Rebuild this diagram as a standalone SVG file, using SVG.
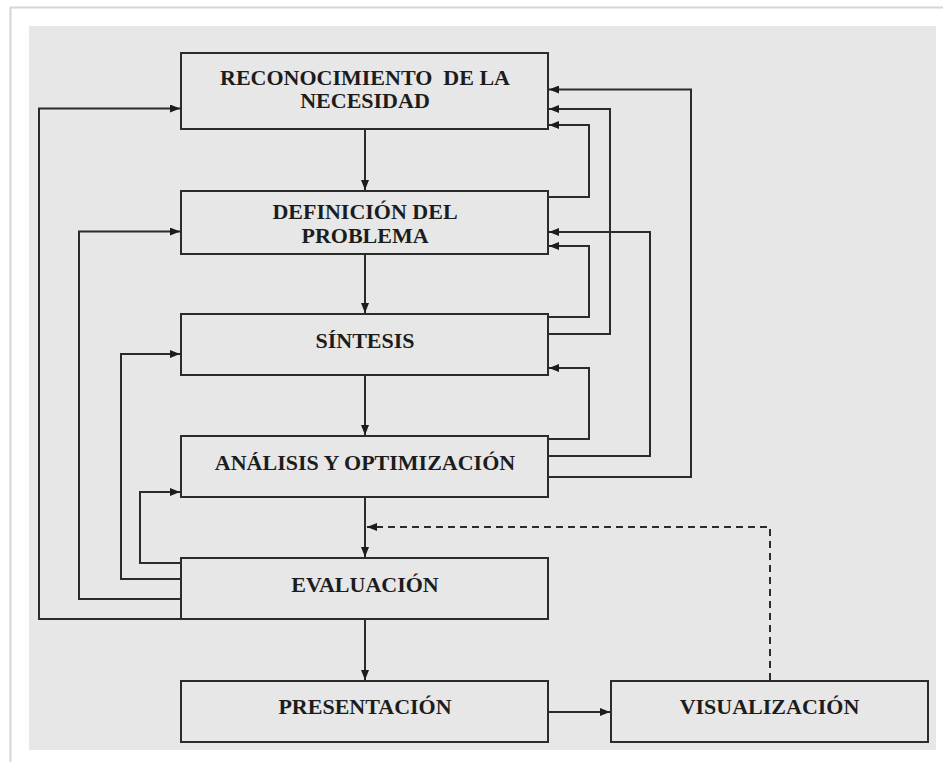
<svg xmlns="http://www.w3.org/2000/svg" width="943" height="762" viewBox="0 0 943 762">
<defs>
<style>
.box{fill:#e7e7e7;stroke:#2b2b2b;stroke-width:2}
.lbl{font-family:"Liberation Serif","Times New Roman",serif;font-weight:bold;font-size:22px;fill:#1c1c1c;text-anchor:middle}
.ln{fill:none;stroke:#2b2b2b;stroke-width:2}
.arr{marker-end:url(#ah)}
.dash{stroke-dasharray:7 5}
</style>
<marker id="ah" viewBox="0 0 10 8" refX="10" refY="4" markerWidth="10" markerHeight="8" markerUnits="userSpaceOnUse" orient="auto">
<path d="M0,0 L10,4 L0,8 z" fill="#1c1c1c"/>
</marker>
</defs>
<rect x="0" y="0" width="943" height="762" fill="#ffffff"/>
<path d="M10.5,762 V7.5 H943" fill="none" stroke="#d6d6d6" stroke-width="2"/>
<rect x="29" y="26" width="907" height="724" fill="#e7e7e7"/>

<g id="connectors">
<path class="ln arr" d="M365,130 V190"/>
<path class="ln arr" d="M365,254 V313"/>
<path class="ln arr" d="M365,375 V435"/>
<path class="ln arr" d="M365,497 V557"/>
<path class="ln arr" d="M365,619 V680"/>
<path class="ln arr" d="M548,712 H610"/>
<path class="ln arr dash" d="M770,680 V527 H367"/>

<path class="ln arr" d="M548,197 H589 V125 H549"/>
<path class="ln arr" d="M548,334 H610 V109 H549"/>
<path class="ln arr" d="M548,477 H691 V89.5 H549"/>
<path class="ln arr" d="M548,317 H589 V246 H549"/>
<path class="ln arr" d="M548,456 H650 V232 H549"/>
<path class="ln arr" d="M548,439 H589 V368 H549"/>

<path class="ln arr" d="M181,619 H39 V108.5 H180"/>
<path class="ln arr" d="M181,599 H79 V231.5 H180"/>
<path class="ln arr" d="M181,579 H121 V354 H180"/>
<path class="ln arr" d="M181,563 H140 V492 H180"/>
</g>

<g id="n1">
<rect class="box" x="181" y="53" width="367" height="76"/>
<text class="lbl" x="365" y="85" xml:space="preserve">RECONOCIMIENTO  DE LA</text>
<text class="lbl" x="365" y="108">NECESIDAD</text>
</g>
<g id="n2">
<rect class="box" x="181" y="191" width="367" height="63"/>
<text class="lbl" x="365" y="219">DEFINICIÓN DEL</text>
<text class="lbl" x="365" y="243">PROBLEMA</text>
</g>
<g id="n3">
<rect class="box" x="181" y="314" width="367" height="61"/>
<text class="lbl" x="365" y="348">SÍNTESIS</text>
</g>
<g id="n4">
<rect class="box" x="181" y="436" width="367" height="61"/>
<text class="lbl" x="365" y="470">ANÁLISIS Y OPTIMIZACIÓN</text>
</g>
<g id="n5">
<rect class="box" x="181" y="558" width="367" height="61"/>
<text class="lbl" x="365" y="592">EVALUACIÓN</text>
</g>
<g id="n6">
<rect class="box" x="181" y="681" width="367" height="61"/>
<text class="lbl" x="365" y="714">PRESENTACIÓN</text>
</g>
<g id="n7">
<rect class="box" x="611" y="681" width="317" height="61"/>
<text class="lbl" x="769.5" y="714">VISUALIZACIÓN</text>
</g>
</svg>
